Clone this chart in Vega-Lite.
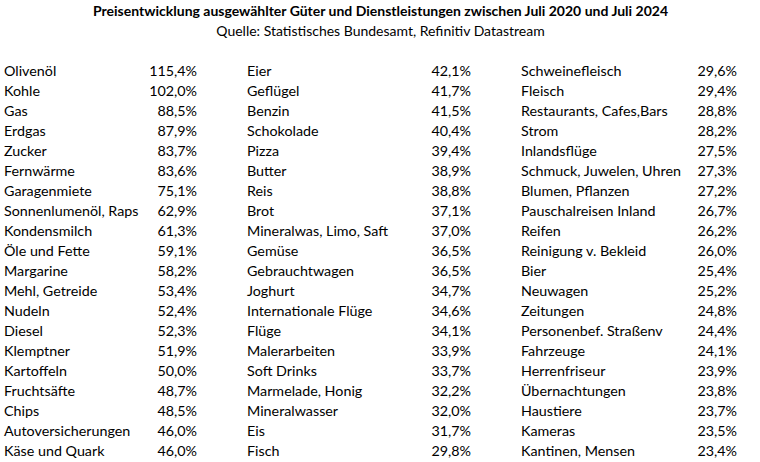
{
  "$schema": "https://vega.github.io/schema/vega-lite/v6.json",
  "padding": {"left": 4, "top": 5, "right": 0, "bottom": 0},
  "background": "white",
  "title": {
    "text": "Preisentwicklung ausgewählter Güter und Dienstleistungen zwischen Juli 2020 und Juli 2024",
    "subtitle": "Quelle: Statistisches Bundesamt, Refinitiv Datastream",
    "anchor": "middle",
    "font": "Lato",
    "fontSize": 14,
    "fontWeight": "bold",
    "color": "#000000",
    "subtitleFont": "Lato",
    "subtitleFontSize": 14,
    "subtitleColor": "#000000",
    "subtitlePadding": 6,
    "offset": 10,
    "dx": 10
  },
  "config": {
    "view": {"stroke": null},
    "locale": {"number": {"decimal": ",", "thousands": ".", "grouping": [3], "currency": ["", "%"]}},
    "text": {"font": "Lato", "fontSize": 14.3, "color": "#000000", "baseline": "alphabetic"}
  },
  "data": {"values": [
    {"group": 1, "row": 1, "name": "Olivenöl", "pct": 115.4},
    {"group": 1, "row": 2, "name": "Kohle", "pct": 102.0},
    {"group": 1, "row": 3, "name": "Gas", "pct": 88.5},
    {"group": 1, "row": 4, "name": "Erdgas", "pct": 87.9},
    {"group": 1, "row": 5, "name": "Zucker", "pct": 83.7},
    {"group": 1, "row": 6, "name": "Fernwärme", "pct": 83.6},
    {"group": 1, "row": 7, "name": "Garagenmiete", "pct": 75.1},
    {"group": 1, "row": 8, "name": "Sonnenlumenöl, Raps", "pct": 62.9},
    {"group": 1, "row": 9, "name": "Kondensmilch", "pct": 61.3},
    {"group": 1, "row": 10, "name": "Öle und Fette", "pct": 59.1},
    {"group": 1, "row": 11, "name": "Margarine", "pct": 58.2},
    {"group": 1, "row": 12, "name": "Mehl, Getreide", "pct": 53.4},
    {"group": 1, "row": 13, "name": "Nudeln", "pct": 52.4},
    {"group": 1, "row": 14, "name": "Diesel", "pct": 52.3},
    {"group": 1, "row": 15, "name": "Klemptner", "pct": 51.9},
    {"group": 1, "row": 16, "name": "Kartoffeln", "pct": 50.0},
    {"group": 1, "row": 17, "name": "Fruchtsäfte", "pct": 48.7},
    {"group": 1, "row": 18, "name": "Chips", "pct": 48.5},
    {"group": 1, "row": 19, "name": "Autoversicherungen", "pct": 46.0},
    {"group": 1, "row": 20, "name": "Käse und Quark", "pct": 46.0},
    {"group": 2, "row": 1, "name": "Eier", "pct": 42.1},
    {"group": 2, "row": 2, "name": "Geflügel", "pct": 41.7},
    {"group": 2, "row": 3, "name": "Benzin", "pct": 41.5},
    {"group": 2, "row": 4, "name": "Schokolade", "pct": 40.4},
    {"group": 2, "row": 5, "name": "Pizza", "pct": 39.4},
    {"group": 2, "row": 6, "name": "Butter", "pct": 38.9},
    {"group": 2, "row": 7, "name": "Reis", "pct": 38.8},
    {"group": 2, "row": 8, "name": "Brot", "pct": 37.1},
    {"group": 2, "row": 9, "name": "Mineralwas, Limo, Saft", "pct": 37.0},
    {"group": 2, "row": 10, "name": "Gemüse", "pct": 36.5},
    {"group": 2, "row": 11, "name": "Gebrauchtwagen", "pct": 36.5},
    {"group": 2, "row": 12, "name": "Joghurt", "pct": 34.7},
    {"group": 2, "row": 13, "name": "Internationale Flüge", "pct": 34.6},
    {"group": 2, "row": 14, "name": "Flüge", "pct": 34.1},
    {"group": 2, "row": 15, "name": "Malerarbeiten", "pct": 33.9},
    {"group": 2, "row": 16, "name": "Soft Drinks", "pct": 33.7},
    {"group": 2, "row": 17, "name": "Marmelade, Honig", "pct": 32.2},
    {"group": 2, "row": 18, "name": "Mineralwasser", "pct": 32.0},
    {"group": 2, "row": 19, "name": "Eis", "pct": 31.7},
    {"group": 2, "row": 20, "name": "Fisch", "pct": 29.8},
    {"group": 3, "row": 1, "name": "Schweinefleisch", "pct": 29.6},
    {"group": 3, "row": 2, "name": "Fleisch", "pct": 29.4},
    {"group": 3, "row": 3, "name": "Restaurants, Cafes,Bars", "pct": 28.8},
    {"group": 3, "row": 4, "name": "Strom", "pct": 28.2},
    {"group": 3, "row": 5, "name": "Inlandsflüge", "pct": 27.5},
    {"group": 3, "row": 6, "name": "Schmuck, Juwelen, Uhren", "pct": 27.3},
    {"group": 3, "row": 7, "name": "Blumen, Pflanzen", "pct": 27.2},
    {"group": 3, "row": 8, "name": "Pauschalreisen Inland", "pct": 26.7},
    {"group": 3, "row": 9, "name": "Reifen", "pct": 26.2},
    {"group": 3, "row": 10, "name": "Reinigung v. Bekleid", "pct": 26.0},
    {"group": 3, "row": 11, "name": "Bier", "pct": 25.4},
    {"group": 3, "row": 12, "name": "Neuwagen", "pct": 25.2},
    {"group": 3, "row": 13, "name": "Zeitungen", "pct": 24.8},
    {"group": 3, "row": 14, "name": "Personenbef.  Straßenv", "pct": 24.4},
    {"group": 3, "row": 15, "name": "Fahrzeuge", "pct": 24.1},
    {"group": 3, "row": 16, "name": "Herrenfriseur", "pct": 23.9},
    {"group": 3, "row": 17, "name": "Übernachtungen", "pct": 23.8},
    {"group": 3, "row": 18, "name": "Haustiere", "pct": 23.7},
    {"group": 3, "row": 19, "name": "Kameras", "pct": 23.5},
    {"group": 3, "row": 20, "name": "Kantinen, Mensen", "pct": 23.4}
  ]},
  "spacing": 50,
  "hconcat": [
    {
      "width": 193, "height": 412,
      "transform": [{"filter": "datum.group == 1"}],
      "encoding": {"y": {"field": "row", "type": "quantitative", "axis": null, "scale": {"domain": [1, 20], "range": [26.7, 406.7]}}},
      "layer": [
        {"mark": {"type": "text", "align": "left"},
         "encoding": {"x": {"datum": 0, "type": "quantitative", "axis": null, "scale": {"domain": [0, 1]}}, "text": {"field": "name"}}},
        {"mark": {"type": "text", "align": "right"},
         "encoding": {"x": {"datum": 1, "type": "quantitative", "axis": null, "scale": {"domain": [0, 1]}}, "text": {"field": "pct", "type": "quantitative", "format": "$.1f"}}}
      ]
    },
    {
      "width": 224, "height": 412,
      "transform": [{"filter": "datum.group == 2"}],
      "encoding": {"y": {"field": "row", "type": "quantitative", "axis": null, "scale": {"domain": [1, 20], "range": [26.7, 406.7]}}},
      "layer": [
        {"mark": {"type": "text", "align": "left"},
         "encoding": {"x": {"datum": 0, "type": "quantitative", "axis": null, "scale": {"domain": [0, 1]}}, "text": {"field": "name"}}},
        {"mark": {"type": "text", "align": "right"},
         "encoding": {"x": {"datum": 1, "type": "quantitative", "axis": null, "scale": {"domain": [0, 1]}}, "text": {"field": "pct", "type": "quantitative", "format": "$.1f"}}}
      ]
    },
    {
      "width": 216, "height": 412,
      "transform": [{"filter": "datum.group == 3"}],
      "encoding": {"y": {"field": "row", "type": "quantitative", "axis": null, "scale": {"domain": [1, 20], "range": [26.7, 406.7]}}},
      "layer": [
        {"mark": {"type": "text", "align": "left"},
         "encoding": {"x": {"datum": 0, "type": "quantitative", "axis": null, "scale": {"domain": [0, 1]}}, "text": {"field": "name"}}},
        {"mark": {"type": "text", "align": "right"},
         "encoding": {"x": {"datum": 1, "type": "quantitative", "axis": null, "scale": {"domain": [0, 1]}}, "text": {"field": "pct", "type": "quantitative", "format": "$.1f"}}}
      ]
    }
  ]
}
